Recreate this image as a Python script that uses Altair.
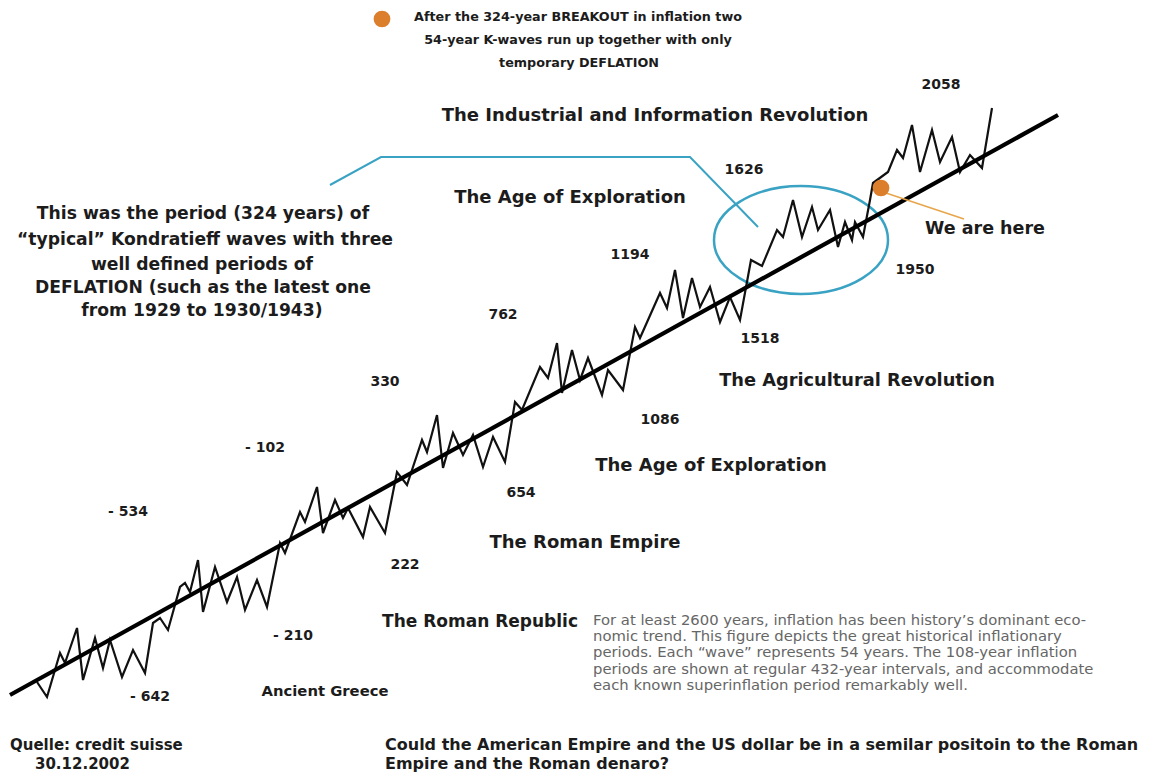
import altair as alt
import pandas as pd

# ---------------- data (page-pixel coordinates) ----------------
zig_x = [37, 47, 60, 65, 77, 83, 95, 103, 110, 122, 133, 145,
         153, 160, 168, 180, 185, 190, 198, 203, 215, 227, 237, 245, 257, 267,
         280, 285, 300, 305, 317, 323, 335, 343, 348, 363, 370, 385,
         397, 407, 422, 427, 437, 443, 453, 463, 473, 483, 493, 505,
         515, 522, 540, 548, 557, 562, 572, 580, 588, 602, 608, 623,
         635, 640, 660, 667, 675, 683, 692, 700, 710, 720, 730, 740,
         751, 762, 777, 783, 793, 802, 812, 818, 830, 838, 845, 852, 855, 863, 870,
         873, 888, 897, 903, 912, 920, 932, 940, 952, 960, 970, 982, 992]
zig_y = [682, 697, 653, 663, 628, 680, 638, 668, 640, 677, 650, 673,
         623, 618, 630, 587, 583, 592, 560, 612, 567, 602, 577, 610, 580, 607,
         543, 553, 512, 522, 487, 533, 500, 518, 508, 537, 507, 533,
         472, 485, 440, 452, 415, 468, 433, 455, 435, 467, 437, 462,
         402, 410, 367, 378, 343, 393, 350, 380, 358, 395, 370, 390,
         327, 338, 293, 308, 270, 318, 278, 307, 287, 322, 297, 320,
         260, 266, 230, 237, 200, 237, 207, 230, 210, 247, 222, 240, 222, 237, 200,
         183, 172, 150, 158, 125, 172, 130, 162, 137, 172, 155, 168, 108]

trend_x = [10, 1058]
trend_y = [695, 115]

callout_x = [330, 381, 690, 758]
callout_y = [185, 157, 157, 227]

pointer_x = [886, 964]
pointer_y = [193, 219]

dot_x = [382, 881]
dot_y = [19, 188]

ellipse_x = [801]
ellipse_y = [240]

# centred bold labels
lab_text = ["After the 324-year BREAKOUT in inflation two",
            "54-year K-waves run up together with only",
            "temporary DEFLATION",
            "2058", "The Industrial and Information Revolution", "1626",
            "The Age of Exploration", "We are here", "1950", "1194", "762",
            "1518", "The Agricultural Revolution", "330", "1086", "- 102",
            "The Age of Exploration", "654", "- 534", "The Roman Empire", "222",
            "The Roman Republic", "- 210", "Ancient Greece", "- 642",
            "This was the period (324 years) of",
            "\u201ctypical\u201d Kondratieff waves with three",
            "well defined periods of",
            "DEFLATION (such as the latest one",
            "from 1929 to 1930/1943)"]
lab_x = [578, 578, 579,
         941, 655, 744,
         570, 985, 915, 630, 503,
         760, 857, 385, 660, 265,
         711, 521, 128, 585, 405,
         480, 293, 325, 150,
         203, 205, 202, 203, 202]
lab_y = [17, 40, 63,
         85, 116, 170,
         198, 229, 270, 255, 315,
         339, 381, 382, 420, 448,
         466, 493, 512, 543, 565,
         622, 636, 692, 697,
         214, 240, 265, 288, 311]
lab_size = [12.75, 12.75, 12.75,
            14, 18, 14,
            18, 17.5, 14, 14, 14,
            14, 17.8, 14, 14, 14,
            18, 14, 14, 18, 14,
            17, 14, 14.8, 14,
            17.2, 17.2, 17.2, 17.2, 17.2]

# left-aligned bold footer texts
foot_text = ["Quelle: credit suisse", "30.12.2002",
             "Could the American Empire and the US dollar be in a semilar positoin to the Roman",
             "Empire and the Roman denaro?"]
foot_x = [10, 35, 385, 385]
foot_y = [745, 764, 745, 764]
foot_size = [15, 15, 16, 16]

# small explanatory paragraph
para_text = ["For at least 2600 years, inflation has been history\u2019s dominant eco-",
             "nomic trend. This figure depicts the great historical inflationary",
             "periods. Each \u201cwave\u201d represents 54 years. The 108-year inflation",
             "periods are shown at regular 432-year intervals, and accommodate",
             "each known superinflation period remarkably well."]
para_x = [593, 593, 593, 593, 593]
para_y = [621, 637, 653, 670, 686]

# ---------------- chart ----------------
XS = alt.Scale(domain=[8, 1156], nice=False, zero=False)
YS = alt.Scale(domain=[8, 772], nice=False, zero=False, reverse=True)


def enc(**extra):
    return dict(x=alt.X("x:Q", scale=XS, axis=None),
                y=alt.Y("y:Q", scale=YS, axis=None), **extra)


def line_df(xs, ys):
    return pd.DataFrame({"x": xs, "y": ys, "i": list(range(len(xs)))})


ellipse = alt.Chart(pd.DataFrame({"x": ellipse_x, "y": ellipse_y})).mark_point(
    shape="M -1 0 C -1 -0.342 -0.552 -0.62 0 -0.62 C 0.552 -0.62 1 -0.342 1 0 "
          "C 1 0.342 0.552 0.62 0 0.62 C -0.552 0.62 -1 0.342 -1 0 Z",
    size=174 * 174, filled=False, stroke="#3aa3c4", strokeWidth=2.5, opacity=1
).encode(**enc())

callout = alt.Chart(line_df(callout_x, callout_y)).mark_line(
    color="#3aa3c4", strokeWidth=2
).encode(**enc(order="i:Q"))

zig = alt.Chart(line_df(zig_x, zig_y)).mark_line(
    color="#111111", strokeWidth=2.2, strokeJoin="miter"
).encode(**enc(order="i:Q"))

trend = alt.Chart(line_df(trend_x, trend_y)).mark_line(
    color="#000000", strokeWidth=4.2
).encode(**enc(order="i:Q"))

pointer = alt.Chart(line_df(pointer_x, pointer_y)).mark_line(
    color="#e8a64a", strokeWidth=1.6
).encode(**enc(order="i:Q"))

dots = alt.Chart(pd.DataFrame({"x": dot_x, "y": dot_y})).mark_point(
    shape="circle", size=280, filled=True, color="#dc7f2c", opacity=1
).encode(**enc())

labels = alt.Chart(pd.DataFrame({"x": lab_x, "y": lab_y, "t": lab_text, "s": lab_size})).mark_text(
    font="DejaVu Sans", fontWeight="bold", align="center", baseline="middle", color="#1c1c1c"
).encode(**enc(text="t:N", size=alt.Size("s:Q", scale=None, legend=None)))

footer = alt.Chart(pd.DataFrame({"x": foot_x, "y": foot_y, "t": foot_text, "s": foot_size})).mark_text(
    font="DejaVu Sans", fontWeight="bold", align="left", baseline="middle", color="#1c1c1c"
).encode(**enc(text="t:N", size=alt.Size("s:Q", scale=None, legend=None)))

para = alt.Chart(pd.DataFrame({"x": para_x, "y": para_y, "t": para_text})).mark_text(
    font="DejaVu Sans", fontSize=14.8, align="left", baseline="middle", color="#666666"
).encode(**enc(text="t:N"))

chart = alt.layer(ellipse, callout, zig, trend, pointer, dots, labels, footer, para).properties(
    width=1148, height=764, padding=0, autosize=alt.AutoSizeParams(type="none"),
    background="white"
).configure_view(stroke=None)

chart.save("out.html", embed_options={"renderer": "svg", "actions": False})
